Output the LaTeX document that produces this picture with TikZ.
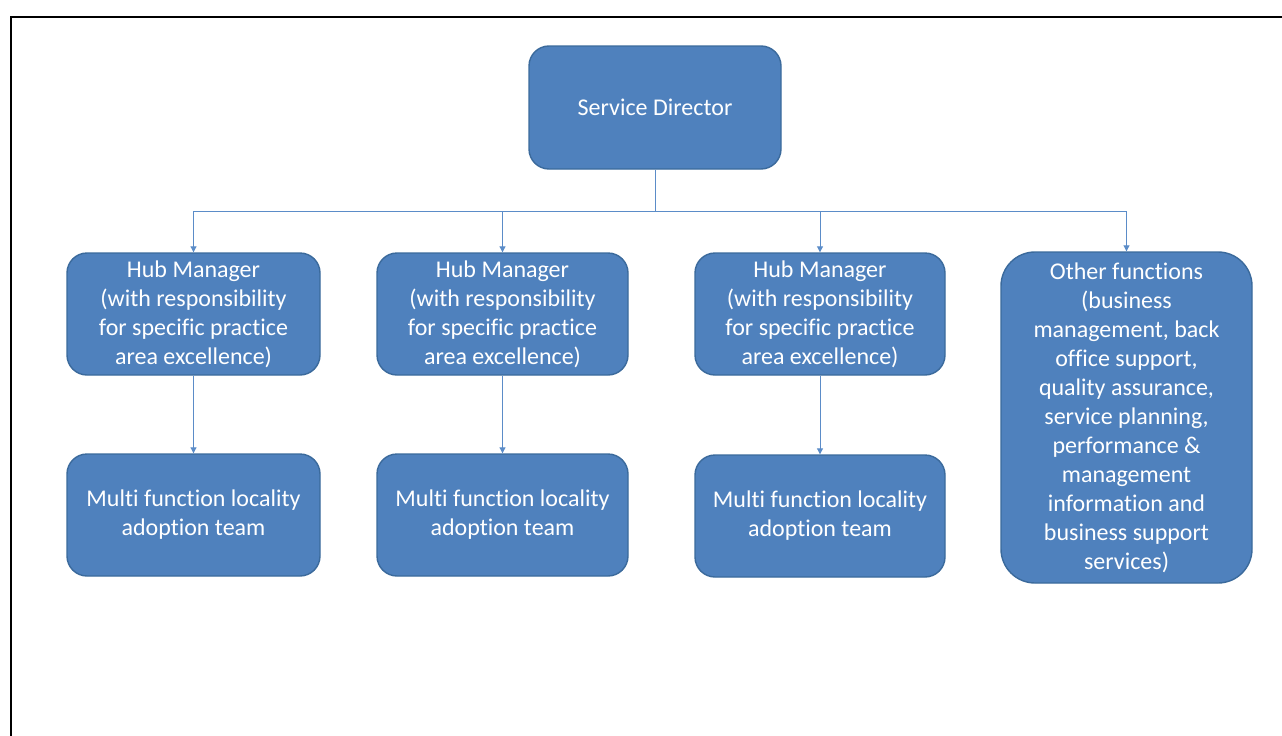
\documentclass[tikz,border=0pt]{standalone}
\usepackage{fontspec}
\setmainfont{Carlito}[Ligatures={NoCommon}]
\usetikzlibrary{arrows.meta}
\definecolor{boxfill}{HTML}{4F81BD}
\definecolor{boxline}{HTML}{3B6A9C}
\definecolor{connline}{HTML}{5B8CC8}
\tikzset{
  orgbox/.style={draw=boxline, line width=1.4pt, fill=boxfill, rounded corners=20pt,
    text=white, align=center, inner sep=0pt,
    font=\fontsize{24}{29}\selectfont},
  conn/.style={draw=connline, line width=1pt, -{Triangle[length=6pt,width=6pt]}},
  frameline/.style={draw=black, line width=2.6pt}
}
\begin{document}
\begin{tikzpicture}[x=1pt,y=-1pt]
\useasboundingbox (0,0) rectangle (1282,736);
\fill[white] (0,0) rectangle (1282,736);
% frame (left and top edges)
\coordinate (fbl) at (11,737);
\coordinate (ftl) at (11,17);
\coordinate (ftr) at (1283,17);
\draw[frameline] (fbl) -- (ftl) -- (ftr);

\node[orgbox, minimum width=252pt, minimum height=123pt] (sd) at (655,107.5) {Service Director};

\node[orgbox, minimum width=253pt, minimum height=122pt] (h1) at (193.5,314) {Hub Manager\\(with responsibility\\for specific practice\\area excellence)};
\node[orgbox, minimum width=251pt, minimum height=122pt] (h2) at (502.5,314) {Hub Manager\\(with responsibility\\for specific practice\\area excellence)};
\node[orgbox, minimum width=250pt, minimum height=122pt] (h3) at (820,314) {Hub Manager\\(with responsibility\\for specific practice\\area excellence)};
\node[orgbox, minimum width=251pt, minimum height=331pt, rounded corners=34pt] (of) at (1126.5,417.5) {Other functions\\(business\\management, back\\office support,\\quality assurance,\\service planning,\\performance \&\\management\\information and\\business support\\services)};

\node[orgbox, minimum width=253pt, minimum height=122pt] (t1) at (193.5,515) {Multi function locality\\adoption team};
\node[orgbox, minimum width=251pt, minimum height=122pt] (t2) at (502.5,515) {Multi function locality\\adoption team};
\node[orgbox, minimum width=250pt, minimum height=122pt] (t3) at (820,516) {Multi function locality\\adoption team};

\coordinate (bus) at (655,211);
\draw[conn] (sd.south) -- (bus) -| (h1.north);
\draw[conn] (bus) -| (h2.north);
\draw[conn] (bus) -| (h3.north);
\draw[conn] (bus) -| (of.north);

\draw[conn] (h1.south) -- (t1.north);
\draw[conn] (h2.south) -- (t2.north);
\draw[conn] (h3.south) -- (t3.north);
\end{tikzpicture}
\end{document}
